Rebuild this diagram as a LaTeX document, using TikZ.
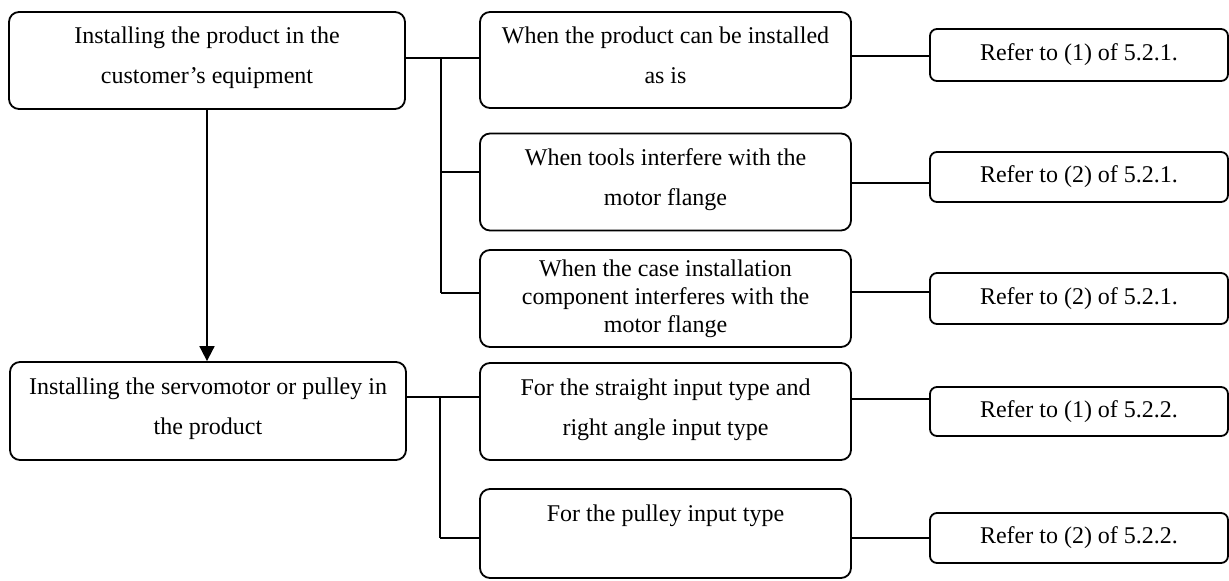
\documentclass[tikz,border=0pt]{standalone}
\usepackage{fontspec}
\setmainfont{Liberation Serif}
\usetikzlibrary{arrows.meta}
\begin{document}
\begin{tikzpicture}[x=1pt,y=-1pt,
  box/.style={draw, line width=1.8pt, rounded corners=10pt, align=center, inner sep=0pt,
    font=\fontsize{24}{40}\selectfont},
  bigbox/.style={box, text depth=10pt, minimum width=396pt, minimum height=97pt},
  midbox/.style={box, text depth=9pt, minimum width=371pt, minimum height=97pt},
  refbox/.style={box, rounded corners=7pt, minimum width=298pt, minimum height=50pt},
  link/.style={line width=1.8pt}]
\useasboundingbox (0,0) rectangle (1229,581);

\node[bigbox] (A) at (207,60.5) {Installing the product in the\\customer’s equipment};
\node[bigbox, minimum height=98pt] (C) at (208,411) {Installing the servomotor or pulley in\\the product};

\node[midbox, minimum height=96pt] (B1) at (665.5,60) {When the product can be installed\\as is};
\node[midbox] (B2) at (665.5,182) {When tools interfere with the\\motor flange};
\node[midbox, text depth=5.5pt, font=\fontsize{24}{28}\selectfont] (B3) at (665.5,298.5) {When the case installation\\component interferes with the\\motor flange};
\node[midbox] (B4) at (665.5,411.5) {For the straight input type and\\right angle input type};
\node[midbox, text depth=0pt, minimum height=89pt] (B5) at (665.5,533.5) {For the pulley input type\\\mbox{}};

\node[refbox, minimum height=52pt] (R1) at (1079,55) {Refer to (1) of 5.2.1.};
\node[refbox] (R2) at (1079,177) {Refer to (2) of 5.2.1.};
\node[refbox, minimum height=51pt] (R3) at (1079,298.5) {Refer to (2) of 5.2.1.};
\node[refbox, minimum height=49pt] (R4) at (1079,411.5) {Refer to (1) of 5.2.2.};
\node[refbox] (R5) at (1079,538) {Refer to (2) of 5.2.2.};

% upper bus
\coordinate (t1) at (441,58);
\coordinate (t2) at (441,172);
\coordinate (t3) at (441,293);
\draw[link] (A.east |- t1) -- (B1.west |- t1);
\draw[link] (t1) -- (t3);
\draw[link] (t2) -- (B2.west |- t2);
\draw[link] (t3) -- (B3.west |- t3);

% lower bus
\coordinate (u1) at (440,397);
\coordinate (u2) at (440,538);
\draw[link] (C.east |- u1) -- (B4.west |- u1);
\draw[link] (u1) -- (u2);
\draw[link] (u2) -- (B5.west |- u2);

% arrow
\draw[link, -{Triangle[length=15pt,width=15pt]}] (A.south) -- (A.south |- C.north);

% right links
\coordinate (r1) at (0,56);
\coordinate (r2) at (0,183);
\coordinate (r3) at (0,292);
\coordinate (r4) at (0,399);
\coordinate (r5) at (0,538);
\draw[link] (B1.east |- r1) -- (R1.west |- r1);
\draw[link] (B2.east |- r2) -- (R2.west |- r2);
\draw[link] (B3.east |- r3) -- (R3.west |- r3);
\draw[link] (B4.east |- r4) -- (R4.west |- r4);
\draw[link] (B5.east |- r5) -- (R5.west |- r5);
\end{tikzpicture}
\end{document}
